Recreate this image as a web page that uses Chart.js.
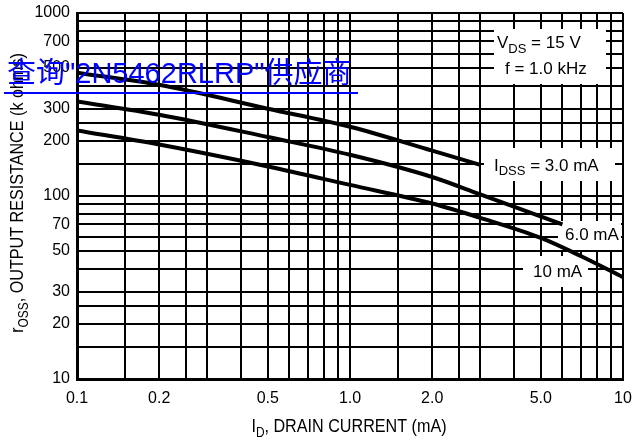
<!DOCTYPE html>
<html>
<head>
<meta charset="utf-8">
<script src="https://cdn.jsdelivr.net/npm/chart.js@4.4.1/dist/chart.umd.min.js"></script>
<style>
  body { margin: 0; background: #fff; }
  canvas { display: block; }
</style>
</head>
<body>
<canvas id="rossChart" width="637" height="443"></canvas>
<script>
// Drain current (mA) and output resistance (k ohms)
const current3mA = [0.1, 0.2, 0.5, 1.0, 2.0, 3.0];
const ross3mA = [472, 405, 300, 239, 177, 148];

const current6mA = [0.1, 0.2, 0.5, 1.0, 2.0, 3.0, 6.0];
const ross6mA = [329, 278, 210, 168, 127, 102, 70];

const current10mA = [0.1, 0.2, 0.5, 1.0, 2.0, 3.0, 5.0, 7.0, 10];
const ross10mA = [228, 191, 145, 115, 91, 76, 59, 47, 36];

// grid lines and tick labels
const xGrid = [0.1, 0.15, 0.2, 0.25, 0.3, 0.4, 0.5, 0.6, 0.7, 0.8, 0.9, 1, 1.5, 2, 2.5, 3, 4, 5, 6, 7, 8, 9, 10];
const xLabelValues = [0.1, 0.2, 0.5, 1, 2, 5, 10];
const xLabels = ['0.1', '0.2', '0.5', '1.0', '2.0', '5.0', '10'];
const yGrid = [10, 15, 20, 25, 30, 40, 50, 60, 70, 80, 90, 100, 150, 200, 250, 300, 400, 500, 600, 700, 800, 900, 1000];
const yLabelValues = [10, 20, 30, 50, 70, 100, 200, 300, 500, 700, 1000];
const yLabels = ['10', '20', '30', '50', '70', '100', '200', '300', '500', '700', '1000'];

const FONT = '"Liberation Sans", Arial, sans-serif';

function toPoints(xs, ys) {
    return xs.map((x, i) => ({ x: x, y: ys[i] }));
}

// draw text made of parts (for subscripts); sx squeezes the letters
function drawRich(ctx, parts, x, y, sx) {
    ctx.save();
    ctx.translate(x, y);
    ctx.scale(sx || 1, 1);
    let pos = 0;
    parts.forEach(p => {
        ctx.font = p.size + 'px ' + FONT;
        ctx.fillText(p.t, pos, p.dy || 0);
        pos += ctx.measureText(p.t).width;
    });
    ctx.restore();
}

function richWidth(ctx, parts, sx) {
    let w = 0;
    parts.forEach(p => {
        ctx.font = p.size + 'px ' + FONT;
        w += ctx.measureText(p.t).width;
    });
    return w * (sx || 1);
}

// white boxes with the curve labels and test conditions
const labelsPlugin = {
    id: 'labels',
    beforeDatasetsDraw(chart) {
        const ctx = chart.ctx;
        ctx.save();
        ctx.fillStyle = '#fff';
        ctx.fillRect(494, 29, 112, 55);
        ctx.fillRect(484, 148, 131, 33);
        ctx.fillRect(558, 221, 63, 29);
        ctx.fillRect(523, 256, 65, 31);

        ctx.fillStyle = '#000';
        ctx.textBaseline = 'alphabetic';
        drawRich(ctx, [{ t: 'V', size: 17 }, { t: 'DS', size: 13, dy: 5 }, { t: ' = 15 V', size: 17 }], 497, 48);
        drawRich(ctx, [{ t: 'f = 1.0 kHz', size: 17 }], 505, 74);
        drawRich(ctx, [{ t: 'I', size: 17 }, { t: 'DSS', size: 13, dy: 4 }, { t: ' = 3.0 mA', size: 17 }], 494, 171);
        drawRich(ctx, [{ t: '6.0 mA', size: 17 }], 565, 240);
        drawRich(ctx, [{ t: '10 mA', size: 17 }], 533, 277);
        ctx.restore();
    },
    afterDraw(chart) {
        const ctx = chart.ctx;
        ctx.save();
        ctx.fillStyle = '#000';
        ctx.textBaseline = 'alphabetic';

        // axis titles
        const xt = [{ t: 'I', size: 19 }, { t: 'D', size: 14, dy: 5 }, { t: ', DRAIN CURRENT (mA)', size: 19 }];
        drawRich(ctx, xt, 349 - richWidth(ctx, xt, 0.85) / 2, 432, 0.85);

        const yt = [{ t: 'r', size: 19 }, { t: 'OSS', size: 14, dy: 5 }, { t: ', OUTPUT RESISTANCE (k ohms)', size: 19 }];
        ctx.save();
        ctx.translate(23, 193);
        ctx.rotate(-Math.PI / 2);
        drawRich(ctx, yt, -richWidth(ctx, yt, 0.85) / 2, 0, 0.85);
        ctx.restore();

        // blue link text lying over the chart
        ctx.fillStyle = '#0000ff';
        ctx.font = '29px "Liberation Sans", "Noto Sans CJK SC", sans-serif';
        ctx.fillText('查询"2N5462RLRP"供应商', 7, 83);
        ctx.fillRect(4, 92, 354, 2);
        ctx.restore();
    }
};

const ctx = document.getElementById('rossChart').getContext('2d');
const lineStyle = { borderColor: '#000', borderWidth: 4, pointRadius: 0, cubicInterpolationMode: 'monotone', fill: false };

new Chart(ctx, {
    type: 'line',
    data: {
        datasets: [
            Object.assign({ label: 'IDSS = 3.0 mA', data: toPoints(current3mA, ross3mA) }, lineStyle),
            Object.assign({ label: '6.0 mA', data: toPoints(current6mA, ross6mA) }, lineStyle),
            Object.assign({ label: '10 mA', data: toPoints(current10mA, ross10mA) }, lineStyle)
        ]
    },
    options: {
        responsive: false,
        animation: false,
        devicePixelRatio: 1,
        layout: { padding: { top: 13, right: 14, left: 0, bottom: 0 } },
        plugins: { legend: { display: false }, tooltip: { enabled: false } },
        scales: {
            x: {
                type: 'logarithmic',
                min: 0.1,
                max: 10,
                afterBuildTicks: scale => { scale.ticks = xGrid.map(v => ({ value: v })); },
                afterFit: scale => {
                    scale.height = 64;
                    scale.paddingLeft = 0;
                    scale.paddingRight = 0;
                },
                ticks: {
                    autoSkip: false,
                    maxRotation: 0,
                    padding: 10,
                    color: '#000',
                    font: { family: FONT, size: 16 },
                    callback: v => {
                        let i = xLabelValues.indexOf(v);
                        return i >= 0 ? xLabels[i] : '';
                    }
                },
                grid: { color: '#000', lineWidth: 2, drawTicks: false },
                border: { color: '#000', width: 3 }
            },
            y: {
                type: 'logarithmic',
                min: 10,
                max: 1000,
                afterBuildTicks: scale => { scale.ticks = yGrid.map(v => ({ value: v })); },
                afterFit: scale => {
                    scale.width = 77;
                    scale.paddingTop = 0;
                    scale.paddingBottom = 0;
                },
                ticks: {
                    autoSkip: false,
                    padding: 7,
                    color: '#000',
                    font: { family: FONT, size: 16 },
                    callback: v => {
                        let i = yLabelValues.indexOf(v);
                        return i >= 0 ? yLabels[i] : '';
                    }
                },
                grid: { color: '#000', lineWidth: 2, drawTicks: false },
                border: { color: '#000', width: 3 }
            }
        }
    },
    plugins: [labelsPlugin]
});
</script>
</body>
</html>
